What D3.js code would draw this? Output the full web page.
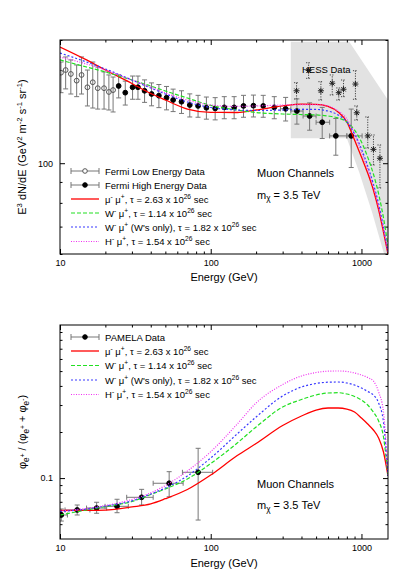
<!DOCTYPE html>
<html>
<head>
<meta charset="utf-8">
<script src="https://cdn.jsdelivr.net/npm/d3@7"></script>
<style>
body { margin: 0; background: #fff; }
svg { font-family: 'Liberation Sans', Arial, sans-serif; background: #fff; }
.axis .domain { display: none; }
.axis line { stroke: #000; }
.axis text { font-size: 9px; fill: #000; }
</style>
</head>
<body>
<script>
// ---------------- data ----------------

// axis ticks
var xMajorTicks = [10, 100, 1000];
var xMinorTicks = [20, 30, 40, 50, 60, 70, 80, 90, 200, 300, 400, 500, 600, 700, 800, 900];
var fluxMajorTicks = [100];
var fluxMinorTicks = [60, 70, 80, 90, 200];
var fracMajorTicks = [0.1];
var fracMinorTicks = [0.05, 0.06, 0.07, 0.08, 0.09, 0.2, 0.3, 0.4, 0.5, 0.6, 0.7, 0.8, 0.9];

// energy grid of the model curves (GeV)
var energy = [10, 15, 20, 30, 40, 50, 70, 100, 150, 200, 300, 400, 500, 600, 700, 800, 900, 1000, 1100, 1200, 1300, 1400, 1500];

// E^3 dN/dE of the four channels
var fluxMuMu  = [192.3, 178.8, 168.9, 156.6, 148.0, 142.7, 135.6, 133.1, 133.0, 134.9, 138.0, 139.4, 139.3, 137.6, 133.4, 126.1, 113.9, 103.5, 94.6, 86.0, 76.9, 67.9, 60.0];
var fluxWMu   = [178.8, 171.8, 167.1, 159.7, 154.4, 150.1, 144.3, 138.4, 134.9, 133.0, 131.9, 131.5, 131.2, 130.4, 129.0, 126.1, 120.5, 112.7, 103.5, 94.1, 84.1, 73.5, 62.7];
var fluxWMuW  = [185.9, 176.7, 169.9, 159.7, 152.7, 147.6, 141.1, 136.8, 134.9, 134.5, 134.9, 135.3, 135.3, 134.1, 131.2, 126.1, 117.9, 108.3, 98.4, 88.9, 79.5, 69.8, 60.7];
var fluxHMu   = [181.8, 174.7, 168.9, 159.7, 153.5, 148.4, 142.7, 138.7, 137.6, 138.0, 138.7, 139.1, 139.1, 138.0, 134.1, 128.2, 117.9, 106.5, 96.8, 87.5, 78.2, 69.1, 60.3];

// positron fraction of the four channels
var fracMuMu  = [0.0614, 0.0615, 0.0618, 0.0648, 0.0679, 0.0733, 0.0842, 0.1047, 0.1404, 0.1682, 0.2206, 0.2543, 0.2783, 0.2869, 0.2869, 0.2826, 0.2701, 0.2468, 0.2256, 0.2061, 0.1827, 0.1481, 0.1032];
var fracWMu   = [0.0574, 0.0619, 0.0652, 0.0703, 0.0781, 0.0849, 0.0986, 0.1245, 0.1695, 0.2157, 0.2913, 0.3261, 0.3488, 0.3595, 0.3611, 0.3542, 0.3411, 0.3236, 0.3001, 0.2701, 0.2360, 0.1855, 0.1032];
var fracWMuW  = [0.0605, 0.0628, 0.0657, 0.0709, 0.0787, 0.0861, 0.1032, 0.1353, 0.1946, 0.2506, 0.3437, 0.3936, 0.4148, 0.4230, 0.4243, 0.4180, 0.4055, 0.3877, 0.3678, 0.3488, 0.3093, 0.2324, 0.1032];
var fracHMu   = [0.0612, 0.0633, 0.0662, 0.0725, 0.0801, 0.0894, 0.1112, 0.1487, 0.2256, 0.3093, 0.4086, 0.4644, 0.4895, 0.4992, 0.5007, 0.4969, 0.4858, 0.4715, 0.4539, 0.4307, 0.3650, 0.2701, 0.1032];

// Fermi low energy data
var fermiLowE    = [10.15, 10.9, 11.8, 12.9, 13.9, 15.2, 16.5, 17.8, 19.6, 21.1, 22.5];
var fermiLowFlux = [166.4, 168.9, 165.2, 159.1, 164.3, 153.3, 157.7, 152.5, 152.5, 149.3, 150.9];
var fermiLowHi   = [176.7, 181.8, 178.8, 173.8, 181.8, 168.9, 176.7, 171.8, 167.1, 164.3, 162.4];
var fermiLowLo   = [148.7, 151.9, 147.6, 145.4, 147.6, 138.0, 136.4, 135.6, 135.6, 134.9, 133.4];

// Fermi high energy data
var fermiHighE    = [24.5, 27.1, 30.3, 32.9, 36.4, 40.5, 45.3, 50.9, 56.3, 64.0, 72.6, 82.4, 93.6, 107, 123, 143, 165, 192, 223, 264, 314, 373, 453, 549, 676, 855];
var fermiHighFlux = [154.4, 148.7, 153.3, 153.3, 150.3, 147.6, 146.2, 144.5, 142.7, 141.3, 138.7, 138.0, 136.6, 136.1, 136.9, 136.9, 138.0, 138.2, 138.0, 136.9, 135.8, 134.1, 130.4, 125.9, 116.6, 116.6];
var fermiHighErr  = [10, 10, 10, 10, 9.5, 9.5, 9.5, 9.5, 9, 9, 9, 8.5, 8.5, 8.5, 8.5, 8.5, 8.5, 8.5, 8.5, 8.5, 9, 9.5, 10, 11, 12, 19];
// energy bins of the six highest Fermi points
var fermiBinLo = [290, 340, 410, 500, 615, 800];
var fermiBinHi = [340, 410, 500, 615, 800, 1010];

// HESS data
var hessE    = [371, 446, 538, 640, 707, 760, 912, 931, 1101, 1201, 1326];
var hessFlux = [150.3, 168.5, 150.3, 156.8, 148.7, 151.6, 156.1, 132.8, 116.6, 108.1, 102.8];
var hessHi   = [157.3, 176.0, 158.2, 164.3, 152.7, 159.7, 168.3, 138.0, 129.7, 117.2, 110.8];
var hessLo   = [143.5, 161.2, 142.7, 146.8, 142.7, 145.4, 143.3, 127.5, 108.9, 99.0, 87.0];

// HESS systematic band (upper and lower edge)
var hessBandUpperE = [340, 830, 1500];
var hessBandUpper  = [198, 198, 142.7];
var hessBandLowerE = [340, 800, 970, 1180, 1450, 1500];
var hessBandLower  = [115, 115, 94.6, 75.6, 58, 55];

// PAMELA data
var pamelaE    = [10.2, 13.0, 17.5, 23.9, 34.8, 53.0, 82.5];
var pamelaFrac = [0.0574, 0.0619, 0.0637, 0.0654, 0.0749, 0.0925, 0.1091];
var pamelaHi   = [0.0628, 0.0667, 0.0695, 0.0727, 0.0844, 0.1101, 0.1565];
var pamelaLo   = [0.0524, 0.0574, 0.0589, 0.0594, 0.0667, 0.0755, 0.0532];
var pamelaEmin = [9.0, 10.8, 15.0, 19.9, 27.7, 41.5, 64.9];
var pamelaEmax = [11.2, 15.8, 20.4, 28.4, 41.5, 65.6, 103];

// legend labels (text, style)
var labelMuMu  = [['μ'], ['-', 'sup'], [' μ'], ['+', 'sup'], [', τ = 2.63 x 10'], ['26', 'sup'], [' sec']];
var labelWMu   = [['W'], ['-', 'sup'], [' μ'], ['+', 'sup'], [', τ = 1.14 x 10'], ['26', 'sup'], [' sec']];
var labelWMuW  = [['W'], ['-', 'sup'], [' μ'], ['+', 'sup'], [' (W\'s only), τ = 1.82 x 10'], ['26', 'sup'], [' sec']];
var labelHMu   = [['H'], ['-', 'sup'], [' μ'], ['+', 'sup'], [', τ = 1.54 x 10'], ['26', 'sup'], [' sec']];

// ---------------- layout ----------------
var svg = d3.select('body')
  .append('svg')
    .attr('width', 399)
    .attr('height', 570);

var x = d3.scaleLog().domain([10, 1500]).range([60, 388]);
var yFlux = d3.scaleLog().domain([60, 200]).range([254, 40]);
var yFrac = d3.scaleLog().domain([0.04, 1]).range([539, 325]);

var lineStyles = [
  {color: '#ff0000', dash: null, width: 1.3},
  {color: '#22e022', dash: '4,2', width: 1.2},
  {color: '#3838ff', dash: '2,2', width: 1.2},
  {color: '#f030f0', dash: '1,1.5', width: 1.2}
];

drawTop();
drawBottom();

// writes text made of normal / sup / sub parts into a text element
function richText(sel, parts) {
  var shift = {normal: 0, sup: -4, sub: 2.5, subsup: -1.5};
  var size = {normal: null, sup: '0.7em', sub: '0.75em', subsup: '0.6em'};
  var cur = 0;
  parts.forEach(function(p) {
    var kind = p[1] || 'normal';
    var ts = sel.append('tspan').attr('dy', shift[kind] - cur).text(p[0]);
    if (size[kind]) ts.attr('font-size', size[kind]);
    cur = shift[kind];
  });
}

// frame plus inward ticks on all four sides
function drawAxes(g, y, yMajor, yMinor, yFormat) {
  var yb = y.range()[0], yt = y.range()[1];
  var xl = x.range()[0], xr = x.range()[1];

  g.append('g').attr('class', 'axis').attr('transform', 'translate(0,' + yb + ')')
    .call(d3.axisBottom(x).tickValues(xMajorTicks).tickSize(-5).tickPadding(6).tickFormat(d3.format('d')));
  g.append('g').attr('class', 'axis').attr('transform', 'translate(0,' + yb + ')')
    .call(d3.axisBottom(x).tickValues(xMinorTicks).tickSize(-2.5).tickFormat(''));
  g.append('g').attr('class', 'axis').attr('transform', 'translate(0,' + yt + ')')
    .call(d3.axisTop(x).tickValues(xMajorTicks).tickSize(-5).tickFormat(''));
  g.append('g').attr('class', 'axis').attr('transform', 'translate(0,' + yt + ')')
    .call(d3.axisTop(x).tickValues(xMinorTicks).tickSize(-2.5).tickFormat(''));

  g.append('g').attr('class', 'axis').attr('transform', 'translate(' + xl + ',0)')
    .call(d3.axisLeft(y).tickValues(yMajor).tickSize(-5).tickPadding(7).tickFormat(yFormat));
  g.append('g').attr('class', 'axis').attr('transform', 'translate(' + xl + ',0)')
    .call(d3.axisLeft(y).tickValues(yMinor).tickSize(-2.5).tickFormat(''));
  g.append('g').attr('class', 'axis').attr('transform', 'translate(' + xr + ',0)')
    .call(d3.axisRight(y).tickValues(yMajor).tickSize(-5).tickFormat(''));
  g.append('g').attr('class', 'axis').attr('transform', 'translate(' + xr + ',0)')
    .call(d3.axisRight(y).tickValues(yMinor).tickSize(-2.5).tickFormat(''));

  g.append('rect')
    .attr('x', xl).attr('y', yt)
    .attr('width', xr - xl).attr('height', yb - yt)
    .style('fill', 'none').style('stroke', '#000').style('stroke-width', 1);
}

function addClip(id, y) {
  svg.append('clipPath').attr('id', id)
    .append('rect')
      .attr('x', x.range()[0]).attr('y', y.range()[1])
      .attr('width', x.range()[1] - x.range()[0])
      .attr('height', y.range()[0] - y.range()[1]);
}

function drawCurves(g, y, series) {
  var line = d3.line()
    .x(function(d, i) { return x(energy[i]); })
    .y(function(d) { return y(d); })
    .curve(d3.curveMonotoneX);

  series.forEach(function(values, k) {
    var st = lineStyles[k];
    g.append('path')
      .datum(values)
      .attr('d', line)
      .style('fill', 'none')
      .style('stroke', st.color)
      .style('stroke-width', st.width)
      .style('stroke-dasharray', st.dash);
  });
}

// vertical error bars with caps
function drawErrorBars(g, xs, lo, hi, y, color, dash) {
  var cap = 2.5;
  xs.forEach(function(e, i) {
    var px = x(e);
    var bar = g.append('g').style('stroke', color).style('stroke-width', 1)
      .style('stroke-dasharray', dash);
    bar.append('line').attr('x1', px).attr('x2', px).attr('y1', y(lo[i])).attr('y2', y(hi[i]));
    bar.append('line').attr('x1', px - cap).attr('x2', px + cap).attr('y1', y(lo[i])).attr('y2', y(lo[i]));
    bar.append('line').attr('x1', px - cap).attr('x2', px + cap).attr('y1', y(hi[i])).attr('y2', y(hi[i]));
  });
}

// horizontal error bars with caps
function drawBinBars(g, emin, emax, vals, y, color) {
  var cap = 2.5;
  vals.forEach(function(v, i) {
    var py = y(v);
    var bar = g.append('g').style('stroke', color).style('stroke-width', 1);
    bar.append('line').attr('x1', x(emin[i])).attr('x2', x(emax[i])).attr('y1', py).attr('y2', py);
    bar.append('line').attr('x1', x(emin[i])).attr('x2', x(emin[i])).attr('y1', py - cap).attr('y2', py + cap);
    bar.append('line').attr('x1', x(emax[i])).attr('x2', x(emax[i])).attr('y1', py - cap).attr('y2', py + cap);
  });
}

function drawDots(g, xs, vals, y, fill, stroke) {
  g.selectAll()
    .data(vals)
    .enter()
    .append('circle')
      .attr('cx', function(d, i) { return x(xs[i]); })
      .attr('cy', function(d) { return y(d); })
      .attr('r', 2.4)
      .style('fill', fill)
      .style('stroke', stroke)
      .style('stroke-width', 1);
}

function asterisk(g, px, py, r) {
  var d = 'M' + (px - r) + ',' + py + 'H' + (px + r) +
          'M' + px + ',' + (py - r) + 'V' + (py + r) +
          'M' + (px - r * 0.75) + ',' + (py - r * 0.75) + 'L' + (px + r * 0.75) + ',' + (py + r * 0.75) +
          'M' + (px - r * 0.75) + ',' + (py + r * 0.75) + 'L' + (px + r * 0.75) + ',' + (py - r * 0.75);
  g.append('path').attr('d', d).style('stroke', '#222').style('stroke-width', 1).style('fill', 'none');
}

// legend: one row per entry
function drawLegend(g, rows) {
  rows.forEach(function(r) {
    var x0 = 71, x1 = 99, xm = 85;
    if (r.kind == 'data') {
      g.append('line').attr('x1', x0).attr('x2', x1).attr('y1', r.y).attr('y2', r.y)
        .style('stroke', '#777').style('stroke-width', 1);
      g.append('line').attr('x1', x0).attr('x2', x0).attr('y1', r.y - 3).attr('y2', r.y + 3)
        .style('stroke', '#777');
      g.append('line').attr('x1', x1).attr('x2', x1).attr('y1', r.y - 3).attr('y2', r.y + 3)
        .style('stroke', '#777');
      g.append('circle').attr('cx', xm).attr('cy', r.y).attr('r', 2.3)
        .style('fill', r.fill).style('stroke', r.stroke);
    } else {
      var st = lineStyles[r.style];
      g.append('line').attr('x1', x0).attr('x2', x1).attr('y1', r.y).attr('y2', r.y)
        .style('stroke', st.color).style('stroke-width', st.width)
        .style('stroke-dasharray', st.dash);
    }
    var t = g.append('text').attr('x', 105).attr('y', r.y + 3.5)
      .style('font-size', '9.5px');
    richText(t, r.label);
  });
}

function drawChannelNote(g, yMuon) {
  g.append('text').attr('x', 257).attr('y', yMuon)
    .style('font-size', '11px').text('Muon Channels');
  var t = g.append('text').attr('x', 257).attr('y', yMuon + 21.5).style('font-size', '11px');
  richText(t, [['m'], ['χ', 'sub'], [' = 3.5 TeV']]);
}

// ---------------- top panel ----------------
function drawTop() {
  var g = svg.append('g');
  addClip('clipTop', yFlux);
  var plot = g.append('g').attr('clip-path', 'url(#clipTop)');

  // HESS band
  var band = hessBandUpperE.map(function(e, i) { return [e, hessBandUpper[i]]; });
  for (var i = hessBandLowerE.length - 1; i >= 0; i--) band.push([hessBandLowerE[i], hessBandLower[i]]);
  plot.append('path')
    .datum(band)
    .attr('d', d3.line().x(function(d) { return x(d[0]); }).y(function(d) { return yFlux(d[1]); }))
    .style('fill', '#e2e2e2')
    .style('stroke', 'none');

  // HESS points
  drawErrorBars(plot, hessE, hessLo, hessHi, yFlux, '#444', '1.2,1.3');
  hessE.forEach(function(e, i) { asterisk(plot, x(e), yFlux(hessFlux[i]), 3); });

  // Fermi data
  drawErrorBars(plot, fermiLowE, fermiLowLo, fermiLowHi, yFlux, '#777', null);
  drawDots(plot, fermiLowE, fermiLowFlux, yFlux, 'none', '#555');

  var hiLo = fermiHighFlux.map(function(v, i) { return v - fermiHighErr[i]; });
  var hiHi = fermiHighFlux.map(function(v, i) { return v + fermiHighErr[i]; });
  drawErrorBars(plot, fermiHighE, hiLo, hiHi, yFlux, '#777', null);
  drawBinBars(plot, fermiBinLo, fermiBinHi, fermiHighFlux.slice(-6), yFlux, '#777');
  drawDots(plot, fermiHighE, fermiHighFlux, yFlux, '#000', '#000');

  drawCurves(plot, yFlux, [fluxMuMu, fluxWMu, fluxWMuW, fluxHMu]);

  drawAxes(g, yFlux, fluxMajorTicks, fluxMinorTicks, d3.format('d'));

  g.append('text').attr('x', 302).attr('y', 72.5).style('font-size', '9.5px').text('HESS Data');
  drawChannelNote(g, 177);

  drawLegend(g, [
    {kind: 'data', y: 171, fill: '#fff', stroke: '#555', label: [['Fermi Low Energy Data']]},
    {kind: 'data', y: 185, fill: '#000', stroke: '#000', label: [['Fermi High Energy Data']]},
    {kind: 'line', y: 199, style: 0, label: labelMuMu},
    {kind: 'line', y: 213, style: 1, label: labelWMu},
    {kind: 'line', y: 227, style: 2, label: labelWMuW},
    {kind: 'line', y: 241.5, style: 3, label: labelHMu}
  ]);

  g.append('text').attr('x', 224).attr('y', 281).attr('text-anchor', 'middle')
    .style('font-size', '11px').text('Energy (GeV)');

  var yt = g.append('text')
    .attr('transform', 'translate(26,147) rotate(-90)')
    .attr('text-anchor', 'middle')
    .style('font-size', '11px');
  richText(yt, [['E'], ['3', 'sup'], [' dN/dE (GeV'], ['2', 'sup'], [' m'], ['-2', 'sup'],
    [' s'], ['-1', 'sup'], [' sr'], ['-1', 'sup'], [')']]);
}

// ---------------- bottom panel ----------------
function drawBottom() {
  var g = svg.append('g');
  addClip('clipBot', yFrac);
  var plot = g.append('g').attr('clip-path', 'url(#clipBot)');

  drawErrorBars(plot, pamelaE, pamelaLo, pamelaHi, yFrac, '#777', null);
  drawBinBars(plot, pamelaEmin, pamelaEmax, pamelaFrac, yFrac, '#777');
  drawDots(plot, pamelaE, pamelaFrac, yFrac, '#000', '#000');

  drawCurves(plot, yFrac, [fracMuMu, fracWMu, fracWMuW, fracHMu]);

  drawAxes(g, yFrac, fracMajorTicks, fracMinorTicks, d3.format('.1'));

  drawChannelNote(g, 487.5);

  drawLegend(g, [
    {kind: 'data', y: 337, fill: '#000', stroke: '#000', label: [['PAMELA Data']]},
    {kind: 'line', y: 351, style: 0, label: labelMuMu},
    {kind: 'line', y: 365.5, style: 1, label: labelWMu},
    {kind: 'line', y: 380, style: 2, label: labelWMuW},
    {kind: 'line', y: 394.5, style: 3, label: labelHMu}
  ]);

  g.append('text').attr('x', 224).attr('y', 567).attr('text-anchor', 'middle')
    .style('font-size', '11px').text('Energy (GeV)');

  var yt = g.append('text')
    .attr('transform', 'translate(26,432) rotate(-90)')
    .attr('text-anchor', 'middle')
    .style('font-size', '11px');
  richText(yt, [['φ'], ['e', 'sub'], ['+', 'subsup'], [' / (φ'], ['e', 'sub'], ['+', 'subsup'],
    [' + φ'], ['e', 'sub'], ['-', 'subsup'], [')']]);
}
</script>
</body>
</html>
